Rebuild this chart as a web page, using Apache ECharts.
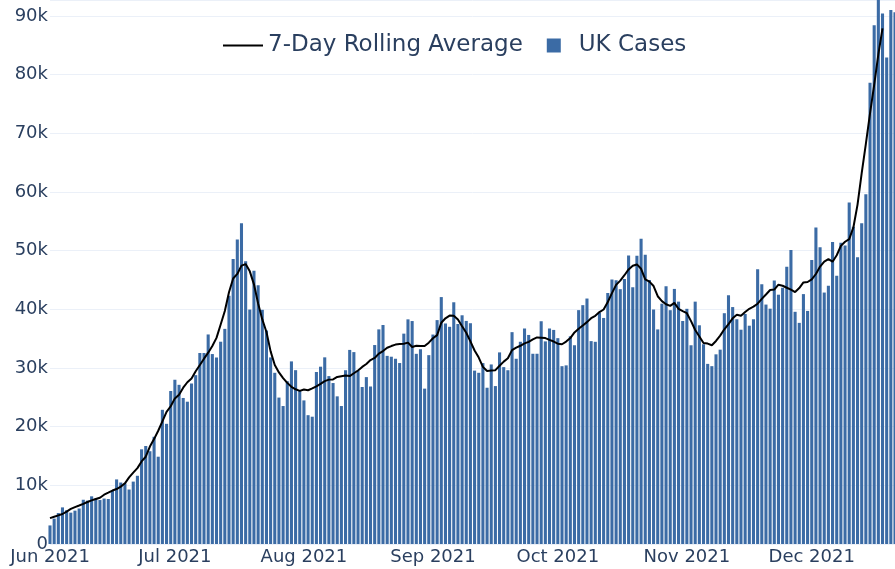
<!DOCTYPE html>
<html>
<head>
<meta charset="utf-8">
<title>UK Cases</title>
<script src="https://cdn.jsdelivr.net/npm/echarts@6/dist/echarts.min.js"></script>
<style>
  html, body { margin: 0; padding: 0; background: #fff; }
  #chart { width: 895px; height: 569px; }
</style>
</head>
<body>
<div id="chart"></div>
<script>
// daily UK cases, 1 Jun 2021 - 21 Dec 2021
const casesJun = [3165, 4330, 5274, 6238, 5765, 5341, 5683, 6048, 7540, 7393, 8125, 7738, 7490, 7742, 7673,
  9055, 11007, 10476, 10321, 9284, 10633, 11625, 16135, 16703, 15810, 18270, 14876, 22868, 20479, 26068];
const casesJul = [27989, 27125, 24885, 24248, 27334, 28773, 32548, 32551, 35707, 32367, 31772, 34471, 36660,
  42302, 48553, 51870, 54674, 48161, 39950, 46558, 44104, 39906, 36389, 31795, 29173, 24950, 23511, 27734,
  31117, 29622, 26144];
const casesAug = [24470, 21952, 21691, 29312, 30215, 31808, 28612, 27429, 25161, 23510, 29612, 33074, 32700,
  29520, 26750, 28438, 26852, 33904, 36572, 37314, 32058, 31914, 31574, 30838, 35847, 38281, 37994, 32406,
  33196, 26476, 32181];
const casesSep = [35693, 38154, 42076, 37578, 37011, 41192, 37489, 38975, 38013, 37622, 29547, 29173, 30825,
  26628, 30597, 26911, 32651, 30144, 29612, 36100, 31564, 34460, 36710, 35623, 32417, 32418, 37960, 34526,
  36722, 36480];
const casesOct = [35077, 30301, 30439, 35400, 33869, 39851, 40701, 41828, 34574, 34455, 39400, 38520, 42776,
  45066, 44932, 43423, 45140, 49156, 43738, 49139, 52009, 49298, 44985, 39962, 36567, 40954, 43941, 39842,
  43467, 41300, 38000];
const casesNov = [40077, 33865, 41299, 37269, 34029, 30693, 30305, 32322, 33117, 39329, 42408, 40375, 38300,
  36517, 39200, 37200, 38300, 46807, 44242, 40800, 40100, 44917, 42484, 43676, 47240, 50091, 39567, 37681,
  42583, 39716];
const casesDec = [48374, 53945, 50584, 42848, 43992, 51459, 45691, 51342, 50867, 58194, 54073, 48854, 54661,
  59610, 78610, 88376, 93045, 90418, 82886, 91000, 90629];

// 7-day rolling average (centred), ends 18 Dec
const avgJun = [4400, 4650, 4880, 5110, 5530, 5980, 6290, 6560, 6840, 7150, 7440, 7670, 7890, 8400, 8740,
  9110, 9370, 9780, 10340, 11350, 12170, 12930, 14070, 14870, 16610, 17880, 19300, 20910, 22530, 23470];
const avgJul = [24810, 25450, 26630, 27560, 28210, 29440, 30500, 31580, 32600, 33730, 35120, 37410, 39710,
  42900, 45240, 46020, 47440, 47700, 46460, 44250, 40980, 38270, 36130, 32830, 30490, 29240, 28270, 27460,
  26790, 26360, 26100];
const avgAug = [26330, 26200, 26510, 26870, 27290, 27750, 28010, 28050, 28460, 28590, 28720, 28620, 29090,
  29560, 30180, 30680, 31340, 31700, 32440, 32880, 33450, 33730, 33980, 34070, 34120, 34310, 33580, 33770,
  33750, 33730, 34310];
const avgSep = [35050, 35600, 37700, 38460, 38930, 38910, 38270, 37120, 36000, 34520, 32970, 31770, 30190,
  29480, 29560, 29620, 30380, 31080, 31640, 33030, 33460, 33780, 34190, 34450, 34870, 35200, 35160, 35090,
  34780, 34500];
const avgOct = [34140, 34040, 34490, 35090, 36060, 36670, 37240, 37810, 38480, 38890, 39520, 39960, 41230,
  42750, 44150, 44890, 45800, 46790, 47420, 47640, 46900, 45100, 44700, 43960, 42220, 41390, 40860, 40580,
  41080, 40070, 39690];
const avgNov = [39330, 37980, 36460, 35360, 34260, 34150, 33870, 34600, 35510, 36590, 37480, 38460, 39050,
  38900, 39530, 40080, 40440, 40950, 41770, 42520, 43290, 43350, 44190, 44010, 43670, 43330, 42940, 43610,
  44570, 44640];
const avgDec = [45100, 46010, 47270, 48130, 48550, 48110, 49200, 50800, 51500, 51960, 53940, 57840, 63200,
  68180, 73370, 78230, 83420, 87850, null, null, null];

const monthNames = ['Jan', 'Feb', 'Mar', 'Apr', 'May', 'Jun', 'Jul', 'Aug', 'Sep', 'Oct', 'Nov', 'Dec'];
const yTicks = [0, 10000, 20000, 30000, 40000, 50000, 60000, 70000, 80000, 90000];

const cases = [].concat(casesJun, casesJul, casesAug, casesSep, casesOct, casesNov, casesDec);
const rollingAvg = [].concat(avgJun, avgJul, avgAug, avgSep, avgOct, avgNov, avgDec);

let days = [];
let day = new Date(Date.UTC(2021, 5, 1));
for (let i = 0; i < cases.length; i++) {
  days.push(day.toISOString().slice(0, 10));
  day.setUTCDate(day.getUTCDate() + 1);
}

const textColor = '#2a3f5f';
const font = 'DejaVu Sans';

let chart = echarts.init(document.getElementById('chart'), null, {renderer: 'canvas'});
let options = {
  animation: false,
  backgroundColor: '#fff',
  grid: {left: 50, right: 0, top: 0, bottom: 25},
  legend: {
    left: 218,
    top: 29,
    itemWidth: 40,
    itemHeight: 14,
    itemGap: 24,
    textStyle: {color: textColor, fontSize: 23, fontFamily: font},
    data: [
      {name: '7-Day Rolling Average', icon: 'path://M0,0H36V2H0Z'},
      {name: 'UK Cases', icon: 'path://M0,0H10V10H0Z'}
    ]
  },
  xAxis: {
    type: 'category',
    data: days,
    boundaryGap: false,
    axisLine: {show: false},
    axisTick: {show: false},
    splitLine: {show: false},
    axisLabel: {
      color: textColor,
      fontSize: 18,
      fontFamily: font,
      margin: 4,
      interval: (idx, val) => val.slice(8) === '01',
      formatter: val => monthNames[parseInt(val.slice(5, 7)) - 1] + ' ' + val.slice(0, 4)
    }
  },
  yAxis: {
    type: 'value',
    min: 0,
    max: 92700,
    interval: 10000,
    axisLine: {show: false},
    axisTick: {show: false},
    splitLine: {lineStyle: {color: '#ebf0f8', width: 1}},
    axisLabel: {
      color: textColor,
      fontSize: 18,
      fontFamily: font,
      margin: 2,
      showMaxLabel: false,
      formatter: v => yTicks.includes(v) ? (v === 0 ? '0' : v / 1000 + 'k') : ''
    }
  },
  series: [
    {
      name: 'UK Cases',
      type: 'bar',
      data: cases,
      barWidth: '74%',
      clip: true,
      itemStyle: {color: '#3b6ba5'}
    },
    {
      name: '7-Day Rolling Average',
      type: 'line',
      data: rollingAvg,
      showSymbol: false,
      symbol: 'none',
      connectNulls: false,
      clip: true,
      z: 5,
      lineStyle: {color: '#000', width: 2},
      itemStyle: {color: '#000'}
    }
  ]
};
chart.setOption(options);
</script>
</body>
</html>
